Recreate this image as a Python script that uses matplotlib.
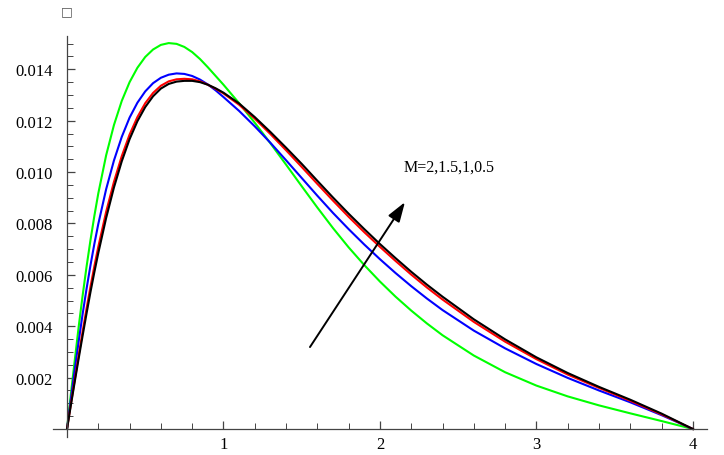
import numpy as np
import matplotlib
matplotlib.use("Agg")
import matplotlib.pyplot as plt
from matplotlib.ticker import MultipleLocator, FixedLocator



# data
x = [0, 0.025, 0.05, 0.075, 0.1, 0.125, 0.15, 0.175, 0.2,
     0.25, 0.3, 0.35, 0.4, 0.45, 0.5, 0.55, 0.6, 0.65, 0.7, 0.75, 0.8,
     0.85, 0.9, 0.95, 1.0,
     1.1, 1.2, 1.3, 1.4, 1.5, 1.6, 1.7, 1.8, 1.9, 2.0, 2.1, 2.2, 2.3, 2.4,
     2.6, 2.8, 3.0, 3.2, 3.4, 3.6, 3.8, 4.0]

m05 = [0, 0.00094, 0.00186, 0.00276, 0.00364, 0.00450, 0.00533, 0.00611, 0.00685,
       0.00821, 0.00940, 0.01042, 0.01128, 0.01198, 0.01253, 0.01295, 0.01325,
       0.01343, 0.01352, 0.01355, 0.01355, 0.01350, 0.01340, 0.01326, 0.01309,
       0.01267, 0.01214, 0.01156, 0.01095, 0.01032, 0.00966, 0.00901, 0.00838,
       0.00778, 0.00720, 0.00665, 0.00612, 0.00562, 0.00515,
       0.00427, 0.00349, 0.00279, 0.00218, 0.00164, 0.00114, 0.00060, 0]
m1 = [0, 0.00098, 0.00194, 0.00288, 0.00380, 0.00469, 0.00554, 0.00634, 0.00709,
      0.00845, 0.00962, 0.01062, 0.01146, 0.01214, 0.01268, 0.01308, 0.01336,
      0.01353, 0.01361, 0.01363, 0.01361, 0.01353, 0.01340, 0.01324, 0.01306,
      0.01262, 0.01208, 0.01148, 0.01085, 0.01020, 0.00954, 0.00889, 0.00826,
      0.00766, 0.00709, 0.00654, 0.00601, 0.00551, 0.00504,
      0.00417, 0.00340, 0.00272, 0.00212, 0.00160, 0.00110, 0.00057, 0]
m15 = [0, 0.00118, 0.00233, 0.00343, 0.00448, 0.00546, 0.00637, 0.00721, 0.00798,
       0.00933, 0.01045, 0.01137, 0.01212, 0.01270, 0.01314, 0.01346, 0.01367,
       0.01379, 0.01384, 0.01382, 0.01374, 0.01360, 0.01341, 0.01318, 0.01292,
       0.01238, 0.01178, 0.01114, 0.01046, 0.00977, 0.00908, 0.00841, 0.00778,
       0.00718, 0.00661, 0.00607, 0.00556, 0.00508, 0.00463,
       0.00383, 0.00314, 0.00253, 0.00199, 0.00150, 0.00104, 0.00054, 0]
m2 = [0, 0.00137, 0.00270, 0.00400, 0.00520, 0.00632, 0.00735, 0.00830, 0.00917,
      0.01065, 0.01183, 0.01277, 0.01350, 0.01406, 0.01448, 0.01477, 0.01495,
      0.01502, 0.01499, 0.01487, 0.01467, 0.01440, 0.01408, 0.01374, 0.01340,
      0.01268, 0.01192, 0.01112, 0.01029, 0.00945, 0.00862, 0.00782, 0.00707,
      0.00638, 0.00574, 0.00515, 0.00461, 0.00411, 0.00365,
      0.00286, 0.00221, 0.00169, 0.00127, 0.00092, 0.00061, 0.00031, 0]

label = "M=2,1.5,1,0.5"


# plot
plt.rcParams['font.family'] = ['Liberation Serif', 'DejaVu Sans']
fig = plt.figure(figsize=(7.24, 4.56), dpi=100)
ax = fig.add_axes([0.0731, 0.0401, 0.9033, 0.879])

for y, c in zip([m2, m15, m1, m05], ['#00ff00', '#0000ff', '#ff0000', 'k']):
    ax.plot(x, y, color=c, lw=1.5, solid_joinstyle='round')

ax.set_xlim(-0.09, 4.09)
ax.set_ylim(-0.0003, 0.0153)

for s in ['top', 'right']:
    ax.spines[s].set_visible(False)
ax.spines['left'].set_position(('data', 0))
ax.spines['bottom'].set_position(('data', 0))
for s in ['left', 'bottom']:
    ax.spines[s].set_color('#444444')
    ax.spines[s].set_linewidth(0.9)

ax.xaxis.set_major_locator(FixedLocator([1, 2, 3, 4]))
ax.xaxis.set_minor_locator(MultipleLocator(0.2))
ax.yaxis.set_major_locator(FixedLocator([0.002, 0.004, 0.006, 0.008, 0.010, 0.012, 0.014]))
ax.yaxis.set_minor_locator(MultipleLocator(0.0005))
ax.set_yticklabels(['0.002', '0.004', '0.006', '0.008', '0.010', '0.012', '0.014'])
ax.set_xticklabels(['1', '2', '3', '4'])
ax.tick_params(which='both', direction='in', color='#444444', labelsize=12)
ax.tick_params(which='major', length=6, width=0.9)
ax.tick_params(which='minor', length=4, width=0.7)
ax.tick_params(axis='y', pad=10)
ax.tick_params(axis='x', pad=5)

ax.annotate('', xy=(2.16, 0.00883), xytext=(1.553, 0.00319),
            arrowprops=dict(arrowstyle='-|>,head_length=1.2,head_width=0.4',
                            color='k', lw=1.4, shrinkA=0, shrinkB=0))
ax.text(2.44, 0.01023, label, fontsize=11.5, ha='center', va='center')

fig.text(67 / 724, 1 - 12 / 456, '\u25a1', family='DejaVu Sans', fontsize=9,
         color='#555555', ha='center', va='center')

fig.savefig('out.png', dpi=100)
